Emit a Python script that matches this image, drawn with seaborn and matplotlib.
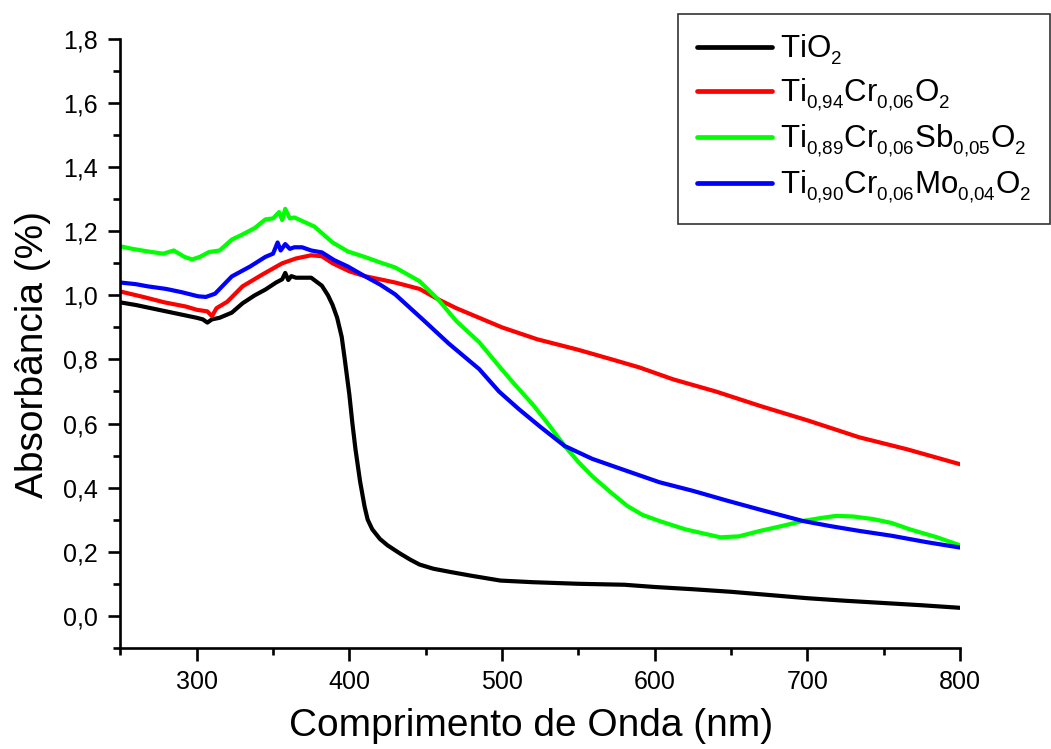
import numpy as np
import pandas as pd
import matplotlib
matplotlib.use("Agg")
import matplotlib.pyplot as plt
import matplotlib._mathtext as _mt
import seaborn as sns
from matplotlib.ticker import MultipleLocator, FuncFormatter
from matplotlib.lines import Line2D

# ---- data ----
wl_tio2 = [250, 260, 270, 280, 290, 300, 304, 307, 310, 315, 323, 330, 338, 345, 352, 356, 358, 360, 362, 365,
           370, 375, 382, 386, 389, 392, 395, 397, 400, 402, 404, 407, 410, 412, 415, 420, 425, 433, 440, 446,
           455, 466, 480, 499, 520, 550, 580, 600, 625, 650, 675, 700, 725, 750, 775, 800]
abs_tio2 = [0.978, 0.97, 0.96, 0.95, 0.94, 0.93, 0.925, 0.915, 0.925, 0.93, 0.946, 0.975, 1.0, 1.018, 1.04, 1.05, 1.07, 1.048, 1.06, 1.055,
            1.055, 1.055, 1.03, 1.0, 0.97, 0.93, 0.87, 0.80, 0.69, 0.60, 0.52, 0.42, 0.34, 0.30, 0.27, 0.24, 0.22, 0.195, 0.175, 0.16,
            0.147, 0.137, 0.125, 0.11, 0.105, 0.10, 0.097, 0.09, 0.083, 0.075, 0.065, 0.055, 0.047, 0.04, 0.033, 0.025]

wl_cr = [250, 265, 279, 293, 300, 307, 310, 313, 320, 330, 343, 356, 365, 375, 382, 389, 400, 410, 420, 430,
         446, 458, 470, 485, 500, 523, 550, 572, 590, 612, 640, 669, 700, 734, 765, 800]
abs_cr = [1.012, 0.995, 0.978, 0.965, 0.955, 0.95, 0.935, 0.96, 0.98, 1.028, 1.065, 1.10, 1.115, 1.125, 1.122, 1.10, 1.075, 1.06, 1.05, 1.04,
          1.02, 0.988, 0.96, 0.93, 0.90, 0.863, 0.83, 0.80, 0.775, 0.738, 0.70, 0.655, 0.61, 0.557, 0.52, 0.473]

wl_sb = [250, 258, 268, 278, 285, 292, 297, 302, 308, 315, 323, 330, 338, 345, 350, 354, 356, 358, 361, 364,
         370, 377, 383, 389, 399, 410, 420, 430, 446, 458, 470, 485, 497, 507, 520, 530, 541, 550, 559, 570,
         582, 592, 603, 620, 643, 655, 669, 683, 697, 710, 719, 730, 743, 755, 767, 785, 800]
abs_sb = [1.153, 1.145, 1.137, 1.13, 1.14, 1.12, 1.112, 1.12, 1.135, 1.14, 1.174, 1.19, 1.21, 1.237, 1.24, 1.26, 1.235, 1.27, 1.24, 1.243,
          1.23, 1.215, 1.19, 1.165, 1.137, 1.12, 1.103, 1.087, 1.044, 0.988, 0.92, 0.854, 0.785, 0.729, 0.66, 0.60, 0.53, 0.48, 0.436, 0.39,
          0.343, 0.315, 0.296, 0.27, 0.245, 0.248, 0.265, 0.28, 0.296, 0.306, 0.312, 0.31, 0.302, 0.29, 0.27, 0.245, 0.22]

wl_mo = [250, 260, 268, 280, 290, 301, 306, 312, 323, 335, 345, 350, 353, 355, 358, 361, 364, 369, 375, 382,
         390, 399, 410, 420, 430, 448, 465, 485, 498, 511, 525, 541, 559, 580, 603, 625, 647, 670, 697, 715,
         734, 755, 778, 800]
abs_mo = [1.04, 1.035, 1.028, 1.02, 1.01, 0.997, 0.995, 1.005, 1.059, 1.09, 1.12, 1.13, 1.165, 1.14, 1.16, 1.145, 1.15, 1.15, 1.14, 1.134,
          1.11, 1.09, 1.06, 1.034, 1.003, 0.925, 0.85, 0.77, 0.70, 0.645, 0.59, 0.53, 0.49, 0.455, 0.417, 0.39, 0.36, 0.33, 0.296, 0.28,
          0.265, 0.25, 0.23, 0.213]

labels = [r"TiO$_2$",
          r"Ti$_{0{,}94}$Cr$_{0{,}06}$O$_2$",
          r"Ti$_{0{,}89}$Cr$_{0{,}06}$Sb$_{0{,}05}$O$_2$",
          r"Ti$_{0{,}90}$Cr$_{0{,}06}$Mo$_{0{,}04}$O$_2$"]
colors = ["#000000", "#ff0000", "#00ff00", "#0000ff"]

frames = []
for lab, x, y in zip(labels, [wl_tio2, wl_cr, wl_sb, wl_mo], [abs_tio2, abs_cr, abs_sb, abs_mo]):
    frames.append(pd.DataFrame({"wl": x, "abs": y, "amostra": lab}))
df = pd.concat(frames, ignore_index=True)

sns.set_style("ticks")
plt.rcParams["font.family"] = ["Liberation Sans", "DejaVu Sans"]
plt.rcParams["mathtext.fontset"] = "custom"
plt.rcParams["mathtext.rm"] = "Liberation Sans"
plt.rcParams["mathtext.it"] = "Liberation Sans"
plt.rcParams["mathtext.default"] = "regular"
# smaller, lower subscripts as in the reference (Origin style)
try:
    _mt.SHRINK_FACTOR = 0.6
    _mt.FontConstantsBase.sub1 = 0.42
    _mt.FontConstantsBase.sub2 = 0.5
except Exception:
    pass

fig = plt.figure(figsize=(10.51, 7.49), dpi=100)
ax = fig.add_axes([0.1145, 0.135, 0.799, 0.813])

sns.lineplot(data=df, x="wl", y="abs", hue="amostra", palette=dict(zip(labels, colors)),
             hue_order=labels, sort=False, estimator=None, lw=3.0, ax=ax, legend=False)

ax.set_xlim(250, 800)
ax.set_ylim(-0.1, 1.8)
ax.xaxis.set_major_locator(MultipleLocator(100))
ax.xaxis.set_minor_locator(MultipleLocator(50))
ax.yaxis.set_major_locator(MultipleLocator(0.2))
ax.yaxis.set_minor_locator(MultipleLocator(0.1))
ax.yaxis.set_major_formatter(FuncFormatter(lambda v, p: f"{v:.1f}".replace(".", ",")))
ax.tick_params(which="major", direction="out", length=9, width=1.9, labelsize=18, pad=7, colors="black")
ax.tick_params(which="minor", direction="out", length=5, width=1.9, colors="black")
for s in ["top", "right"]:
    ax.spines[s].set_visible(False)
for s in ["left", "bottom"]:
    ax.spines[s].set_linewidth(1.9)
    ax.spines[s].set_color("black")

ax.set_xlabel("Comprimento de Onda (nm)", fontsize=28, color="black")
ax.set_ylabel("Absorbância (%)", fontsize=28, color="black")
ax.xaxis.set_label_coords(0.489, -0.098)
ax.yaxis.set_label_coords(-0.083, 0.481)

handles = [Line2D([], [], color=c, lw=3.4) for c in colors]
leg = fig.legend(handles, labels, loc="upper right", bbox_to_anchor=(0.999, 0.981),
                 fontsize=22.5, frameon=True, fancybox=False, edgecolor="black",
                 handlelength=2.4, handletextpad=0.25, labelspacing=0.3,
                 borderpad=0.6, borderaxespad=0)
leg.get_frame().set_linewidth(1.2)
for t in leg.get_texts():
    t.set_color("black")

fig.savefig("out.png", dpi=100, facecolor="white")
